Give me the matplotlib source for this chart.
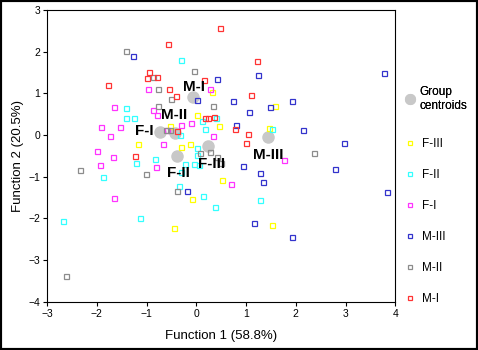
import matplotlib
matplotlib.use('Agg')
from matplotlib import pyplot as plt
from matplotlib.lines import Line2D
from matplotlib.patches import Rectangle

plt.rcParams['font.family'] = ['Liberation Sans', 'DejaVu Sans']

# discriminant scores per group: (function 1, function 2)
m1_x = [0.47, -0.56, -0.94, -1.00, -0.78, 0.15, -1.77, -0.55, -0.40, 0.17, 0.24, 0.35, -0.39, -1.23, 1.23, 1.10, 0.78, 1.03, 1.00]
m1_y = [2.56, 2.18, 1.51, 1.37, 1.40, 1.31, 1.21, 1.10, 0.93, 0.42, 0.42, 0.44, 0.10, -0.50, 1.77, 0.97, 0.15, 0.02, -0.20]

m2_x = [-1.41, -0.04, -0.86, -0.76, -0.51, -0.76, 0.34, -0.60, -0.52, 0.08, 0.28, 0.42, 0.50, 2.37, -2.33, -1.01, -0.39, -2.61]
m2_y = [2.02, 1.54, 1.39, 1.10, 0.86, 0.70, 0.70, 0.11, 0.11, -0.42, -0.40, -0.52, -0.68, -0.43, -0.84, -0.93, -1.35, -3.38]

m3_x = [-1.27, 0.42, 0.01, 0.74, 1.25, 3.78, 1.05, 1.49, 1.92, 0.80, 2.14, 2.97, 0.93, 2.78, 1.28, 1.35, 3.84, 1.16, 1.92, -0.19]
m3_y = [1.90, 1.34, 0.84, 0.81, 1.45, 1.49, 0.56, 0.67, 0.81, 0.23, 0.11, -0.20, -0.75, -0.82, -0.91, -1.13, -1.37, -2.12, -2.45, -1.34]

f2_x = [-0.30, -1.42, -1.42, -1.25, 0.40, 0.11, 0.17, -0.32, -0.83, 0.01, 0.02, -1.22, -0.23, -0.05, 0.05, -1.87, -0.31, -0.34, 0.13, -2.67, -1.13, 1.52, 1.29, 0.38]
f2_y = [1.79, 0.64, 0.42, 0.42, 0.42, 0.33, 0.14, 0.01, -0.58, -0.32, -0.49, -0.68, -0.70, -0.70, -0.73, -1.00, -0.89, -1.22, -1.46, -2.06, -1.98, 0.14, -1.56, -1.73]

f1_x = [-0.97, 0.28, -1.65, -0.86, -0.78, -0.11, -1.92, -1.53, -0.30, -0.58, -1.73, 0.33, -0.67, -2.00, -1.68, -1.93, -0.80, -1.65, 0.70, 1.77]
f1_y = [1.10, 1.11, 0.67, 0.61, 0.48, 0.28, 0.19, 0.19, 0.23, 0.12, -0.02, -0.02, -0.22, -0.39, -0.53, -0.73, -0.77, -1.52, -1.18, -0.61]

f3_x = [0.32, 0.01, -0.53, 0.46, -1.17, -0.30, -0.13, 1.58, 1.47, 0.51, -0.08, -0.44, 1.52]
f3_y = [1.04, 0.47, 0.22, 0.21, -0.22, -0.29, -0.22, 0.70, 0.17, -1.09, -1.54, -2.23, -2.17]

# group centroids and where their names sit
cent_names = ['M-I', 'M-II', 'F-I', 'F-II', 'F-III', 'M-III']
cent_x = [-0.06, -0.43, -0.73, -0.39, 0.23, 1.45]
cent_y = [0.91, 0.04, 0.07, -0.50, -0.26, -0.04]
name_x = [-0.04, -0.45, -1.05, -0.35, 0.30, 1.45]
name_y = [1.15, 0.47, 0.10, -0.91, -0.70, -0.47]

groups = [
    ('F-III', f3_x, f3_y, '#ffff00'),
    ('F-II', f2_x, f2_y, '#33ffff'),
    ('F-I', f1_x, f1_y, '#ff33ff'),
    ('M-III', m3_x, m3_y, '#3333cc'),
    ('M-II', m2_x, m2_y, '#8c8c8c'),
    ('M-I', m1_x, m1_y, '#ff3333'),
]

fig = plt.figure(figsize=(4.78, 3.5), dpi=100)
ax = fig.add_axes([0.0983, 0.138, 0.7287, 0.8334])

handles = []
labels = []
for name, xs, ys, col in groups:
    ax.plot(xs, ys, ls='none', marker='s', ms=3.6, mfc='none', mec=col, mew=0.9)
    handles.append(Line2D([], [], ls='none', marker='s', ms=3.2, mfc='none', mec=col, mew=0.9))
    labels.append(name)

ax.plot(cent_x, cent_y, ls='none', marker='o', ms=8, mfc='#c8c8c8', mec='#c8c8c8', zorder=1)
for n, tx, ty in zip(cent_names, name_x, name_y):
    ax.text(tx, ty, n, ha='center', va='center', fontsize=11, fontweight='bold')

ax.set_xlim(-3, 4)
ax.set_ylim(-4, 3)
ax.set_xticks(range(-3, 5))
ax.set_yticks(range(-4, 4))
ax.tick_params(labelsize=7.5, length=3, width=0.8, pad=2)
for s in ax.spines.values():
    s.set_linewidth(0.8)
ax.set_xlabel('Function 1 (58.8%)', fontsize=9.5, labelpad=8)
ax.set_ylabel('Function 2 (20.5%)', fontsize=9.5, labelpad=3)

# centroid key on its own, then the group keys below it
cent_key = Line2D([], [], ls='none', marker='o', ms=7, mfc='#c8c8c8', mec='#c8c8c8')
leg1 = fig.legend([cent_key], ['Group\ncentroids'], loc='upper left',
                  bbox_to_anchor=(0.845, 0.755), frameon=False, fontsize=8.5,
                  handletextpad=0.3, handlelength=1.0, borderaxespad=0, borderpad=0)
fig.add_artist(leg1)
fig.legend(handles, labels, loc='upper left', bbox_to_anchor=(0.845, 0.605),
           frameon=False, fontsize=8.5, labelspacing=1.6, handletextpad=0.5,
           handlelength=1.0, borderaxespad=0, borderpad=0)

fig.patches.append(Rectangle((0, 0), 1, 1, transform=fig.transFigure,
                             fill=False, ec='black', lw=3))

fig.savefig('out.png', dpi=100)
